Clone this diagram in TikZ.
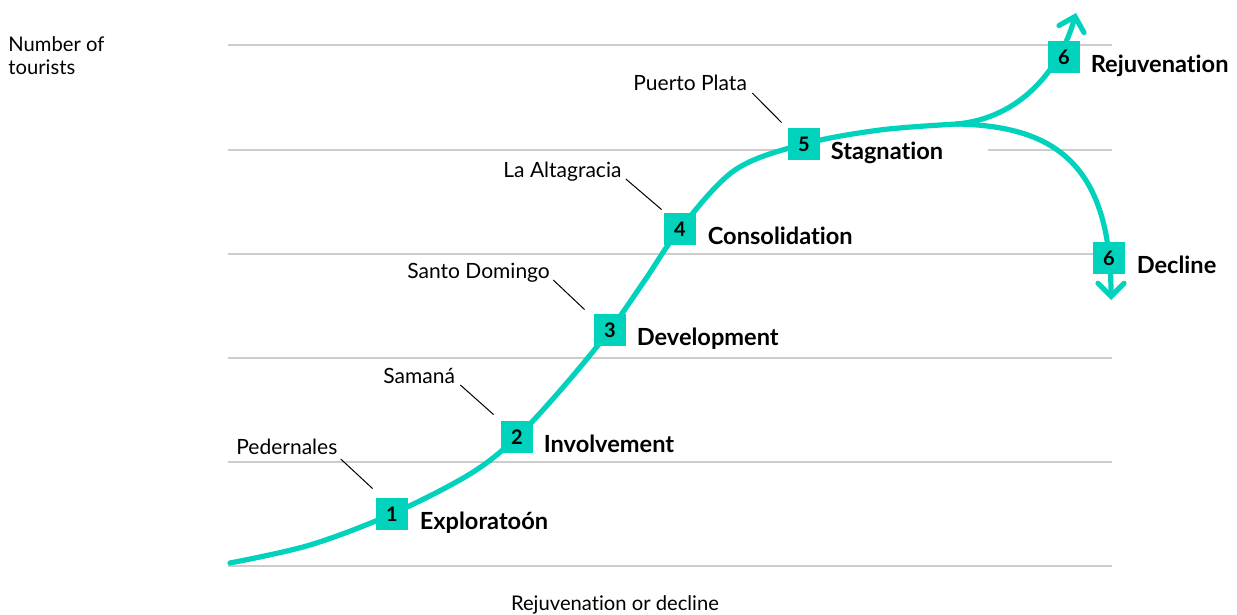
\documentclass[tikz,border=0pt]{standalone}
\usepackage{fontspec}
\setmainfont{Lato}[Ligatures={NoCommon,NoRare}]
\usetikzlibrary{arrows.meta}
\definecolor{teal1}{RGB}{0,210,188}
\definecolor{gridc}{RGB}{204,204,204}
\begin{document}
\begin{tikzpicture}[x=0.5pt,y=-0.5pt,
  gridline/.style={gridc, line width=0.6pt},
  curve/.style={teal1, line width=2.6pt, line cap=round},
  tipped/.style={-{Straight Barb[length=6.5pt,width=13pt,line cap=round]}},
  stagebox/.style={fill=teal1, minimum size=16pt, inner sep=0pt, font=\fontsize{10}{12}\selectfont\bfseries},
  stagelabel/.style={anchor=base west, inner sep=0pt, font=\fontsize{11.8}{13}\selectfont\bfseries},
  citylabel/.style={anchor=base west, inner sep=0pt, font=\fontsize{10.5}{12}\selectfont},
  axislabel/.style={inner sep=0pt, font=\fontsize{10.1}{11.5}\selectfont},
  leader/.style={black, line width=0.5pt}
]
\useasboundingbox (0,0) rectangle (1237,615);

% grid lines
\foreach \yy in {45,254,358,462,566}{
  \draw[gridline] (228,\yy) -- (1112,\yy);
}
\draw[gridline] (228,150) -- (790,150);
\draw[gridline] (988,150) -- (1112,150);

% stage squares (positions)
\coordinate (p1) at (392,514);
\coordinate (p2) at (517,437);
\coordinate (p3) at (610,330);
\coordinate (p4) at (680,229);
\coordinate (p5) at (804,144);
\coordinate (p6a) at (1064,57);
\coordinate (p6b) at (1109,258);
\coordinate (start) at (230,563);
\coordinate (split) at (957,124);
\coordinate (tipup) at (1076,13);
\coordinate (tipdown) at (1111,300);

% curve
\draw[curve] plot[smooth, tension=0.55] coordinates {(start) (310,545) (p1) (470,474) (p2) (565,385) (p3) (645,280) (p4) (735,170) (p5) (880,130) (split)};
\draw[curve, tipped] (split) .. controls (1020,118) and (1060,70) .. (tipup);
\draw[curve, tipped] (split) .. controls (1050,126) and (1111,160) .. (tipdown);

% squares
\node[stagebox] (s1) at (p1) {1};
\node[stagebox] (s2) at (p2) {2};
\node[stagebox] (s3) at (p3) {3};
\node[stagebox] (s4) at (p4) {4};
\node[stagebox] (s5) at (p5) {5};
\node[stagebox] (s6a) at (p6a) {6};
\node[stagebox] (s6b) at (p6b) {6};

% stage labels
\node[stagelabel] (l1) at ([shift={(11,-1)}]s1.south east) {Exploratoón};
\node[stagelabel] (l2) at ([shift={(10,-1)}]s2.south east) {Involvement};
\node[stagelabel] (l3) at ([shift={(10,-1)}]s3.south east) {Development};
\node[stagelabel] (l4) at ([shift={(11,-1)}]s4.south east) {Consolidation};
\node[stagelabel] (l5) at ([shift={(10,-1)}]s5.south east) {Stagnation};
\node[stagelabel] (l6a) at ([shift={(10,-1)}]s6a.south east) {Rejuvenation};
\node[stagelabel] (l6b) at ([shift={(11,-1)}]s6b.south east) {Decline};

% city labels
\node[citylabel] (c1) at (236,454) {Pedernales};
\node[citylabel] (c2) at (383,383) {Samaná};
\node[citylabel] (c3) at (407,278) {Santo Domingo};
\node[citylabel] (c4) at (503,177) {La Altagracia};
\node[citylabel] (c5) at (633,91) {Puerto Plata};

% leaders
\draw[leader] ([shift={(3,5)}]c1.base east) -- ([shift={(-3,-9)}]s1.north west);
\draw[leader] ([shift={(5,2)}]c2.base east) -- ([shift={(-7,-6)}]s2.north west);
\draw[leader] ([shift={(3,2)}]c3.base east) -- ([shift={(-9,-4)}]s3.north west);
\draw[leader] ([shift={(4,2)}]c4.base east) -- ([shift={(-2,-3)}]s4.north west);
\draw[leader] ([shift={(5,2)}]c5.base east) -- ([shift={(-6,-5)}]s5.north west);

% axis labels
\node[axislabel, anchor=north west, align=left] (ylab) at (8,36) {Number of\\tourists};
\node[axislabel, anchor=base] (xlab) at (615,610) {Rejuvenation or decline};
\end{tikzpicture}
\end{document}
